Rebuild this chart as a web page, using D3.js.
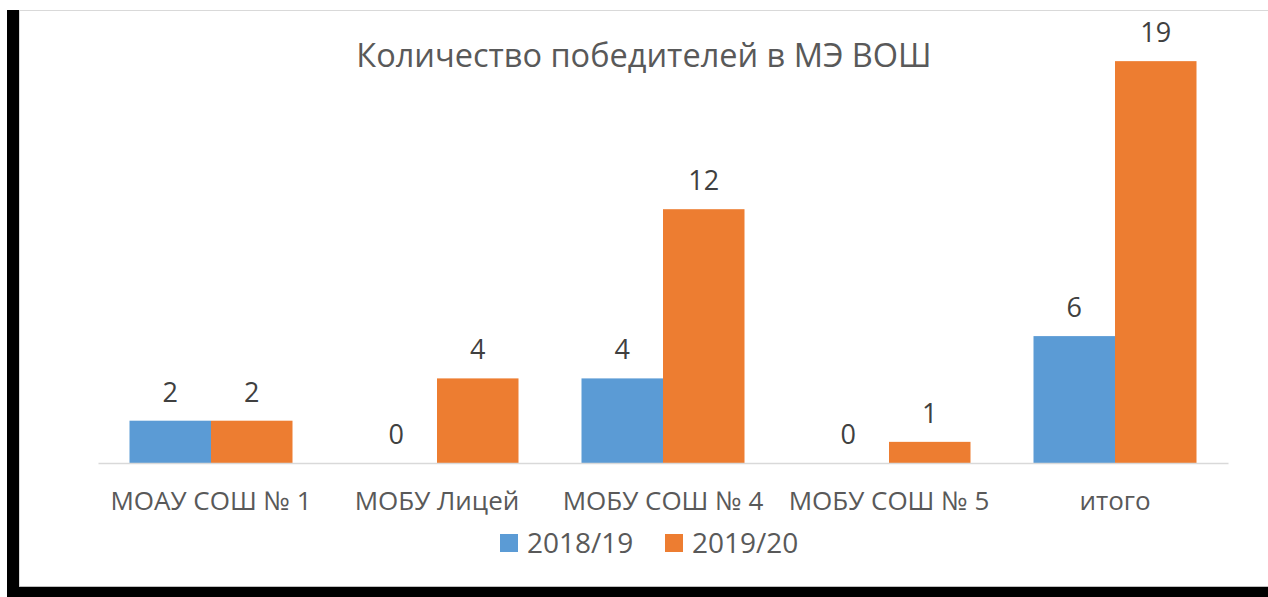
<!DOCTYPE html>
<html lang="ru">
  <head>
    <meta charset="utf-8">
    <script src="https://d3js.org/d3.v7.min.js"></script>
    <style>
    body { margin: 0; background: #fff; }
    svg { display: block; font-family: "Open Sans", sans-serif; }
    </style>
  </head>
  <body>
    <div id="place"></div>
    <script type="text/javascript">
    // chart data
    const categories = ["МОАУ СОШ № 1", "МОБУ Лицей", "МОБУ СОШ № 4", "МОБУ СОШ № 5", "итого"];
    const seriesNames = ["2018/19", "2019/20"];
    const values2018 = [2, 0, 4, 0, 6];
    const values2019 = [2, 4, 12, 1, 19];
    const colors = ["#5b9bd5", "#ed7d31"];

    const width = 1268, height = 597;
    const plot = { left: 98, right: 1228, top: 40, bottom: 463 };

    const svg = d3.select('#place').append('svg')
      .attr('width', width)
      .attr('height', height);

    // frame: black bands left/bottom, grey hairlines
    svg.append('rect').attr('x', 0).attr('y', 0).attr('width', width).attr('height', height).attr('fill', '#fff');
    svg.append('rect').attr('x', 7).attr('y', 10).attr('width', 12).attr('height', 587).attr('fill', '#000');
    svg.append('rect').attr('x', 7).attr('y', 587).attr('width', width - 7).attr('height', 10).attr('fill', '#000');
    svg.append('line').attr('x1', 19.5).attr('x2', 19.5).attr('y1', 10).attr('y2', 587).attr('stroke', '#d9d9d9');
    svg.append('line').attr('x1', 19).attr('x2', width).attr('y1', 10.5).attr('y2', 10.5).attr('stroke', '#d9d9d9');
    svg.append('line').attr('x1', 19).attr('x2', width).attr('y1', 586.5).attr('y2', 586.5).attr('stroke', '#bfbfbf');

    const x = d3.scaleBand()
      .domain(categories)
      .range([plot.left, plot.right])
      .padding(0);

    const groupWidth = 163;
    const x1 = d3.scaleBand()
      .domain(seriesNames)
      .range([0, groupWidth])
      .padding(0);

    const y = d3.scaleLinear()
      .domain([0, 20])
      .range([plot.bottom, plot.top]);

    const rows = categories.map((c, i) => ({ cat: c, vals: [values2018[i], values2019[i]] }));

    const groups = svg.append('g').selectAll('g')
      .data(rows)
      .join('g')
      .attr('transform', d => `translate(${x(d.cat) + (x.bandwidth() - groupWidth) / 2},0)`);

    groups.selectAll('rect')
      .data(d => d.vals.map((v, j) => ({ key: seriesNames[j], v: v, j: j })))
      .join('rect')
      .attr('x', d => x1(d.key))
      .attr('y', d => y(d.v))
      .attr('width', x1.bandwidth())
      .attr('height', d => y(0) - y(d.v))
      .attr('fill', d => colors[d.j]);

    groups.selectAll('text')
      .data(d => d.vals.map((v, j) => ({ key: seriesNames[j], v: v })))
      .join('text')
      .attr('x', d => x1(d.key) + x1.bandwidth() / 2)
      .attr('y', d => y(d.v) - 19)
      .attr('text-anchor', 'middle')
      .attr('font-size', 27)
      .attr('fill', '#404040')
      .text(d => d.v);

    // category axis
    const xAxis = svg.append('g')
      .attr('transform', `translate(0,${plot.bottom})`)
      .call(d3.axisBottom(x).tickSize(0).tickPadding(29));
    xAxis.select('.domain').attr('stroke', '#d9d9d9').attr('stroke-width', 1.3);
    xAxis.selectAll('text')
      .attr('font-size', 26)
      .attr('font-family', '"Open Sans", sans-serif')
      .attr('fill', '#595959');

    // title
    svg.append('text')
      .attr('x', 644)
      .attr('y', 67)
      .attr('text-anchor', 'middle')
      .attr('font-size', 32.5)
      .attr('fill', '#595959')
      .text('Количество победителей в МЭ ВОШ');

    // legend
    const legend = svg.append('g').attr('transform', 'translate(500,543)');
    const items = legend.selectAll('g')
      .data(seriesNames)
      .join('g')
      .attr('transform', (d, i) => `translate(${i * 165},0)`);
    items.append('rect')
      .attr('x', 0).attr('y', -9)
      .attr('width', 18).attr('height', 18)
      .attr('fill', (d, i) => colors[i]);
    items.append('text')
      .attr('x', 27).attr('y', 10)
      .attr('font-size', 28)
      .attr('fill', '#595959')
      .text(d => d);
    </script>
  </body>
</html>
